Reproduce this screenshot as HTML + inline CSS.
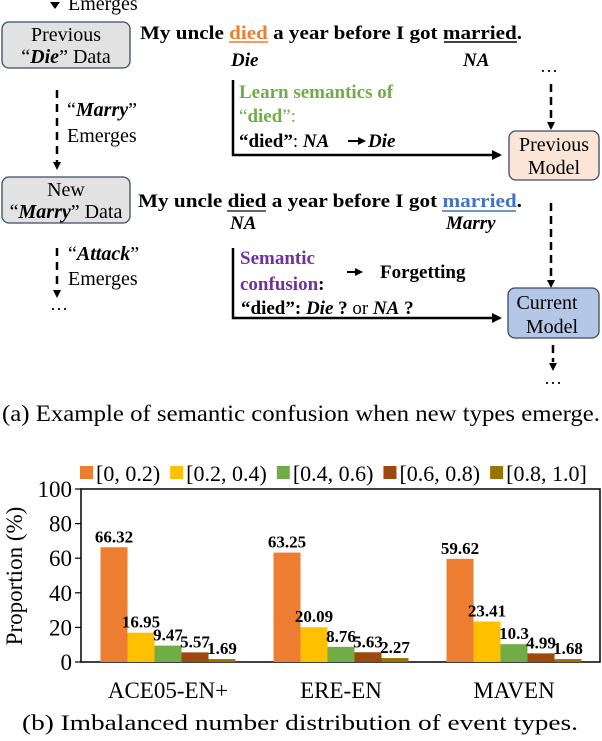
<!DOCTYPE html>
<html><head><meta charset="utf-8"><style>
html,body{margin:0;padding:0;background:#fff}
svg, svg text{font-family:"Liberation Serif","DejaVu Serif",serif}
</style></head><body>
<svg width="602" height="736" viewBox="0 0 602 736" font-family="Liberation Serif, serif">
<g>
<path d="M50,2 L60,2 L55,9 z" fill="#000"/>
<text x="68" y="10" font-size="20">Emerges</text>
<rect x="2" y="22" width="128" height="46" rx="7" fill="#e2e2e2" stroke="#3d4a63" stroke-width="1.3"/>
<text x="66" y="41" font-size="20" text-anchor="middle">Previous</text>
<text x="66" y="63" font-size="20" text-anchor="middle">“<tspan font-weight="bold" font-style="italic">Die</tspan>” Data</text>
<text x="140" y="39" font-size="19" font-weight="bold" textLength="382" lengthAdjust="spacingAndGlyphs">My uncle <tspan fill="#ed7d31">died</tspan> a year before I got married.</text>
<line x1="229" y1="42" x2="268" y2="42" stroke="#ed7d31" stroke-width="1.5"/>
<line x1="444" y1="42" x2="517" y2="42" stroke="#000" stroke-width="1.5"/>
<text x="231" y="66" font-size="19" font-weight="bold" font-style="italic">Die</text>
<text x="463" y="66" font-size="19" font-weight="bold" font-style="italic">NA</text>
<text x="540" y="72" font-size="18">…</text>
<line x1="551" y1="84" x2="551" y2="128" stroke="#000" stroke-width="2.5" stroke-dasharray="8,5"/>
<path d="M547,122 L555,122 L551,130 z" fill="#000"/>
<rect x="509" y="131" width="90" height="49" rx="7" fill="#fbe5d6" stroke="#3d4a63" stroke-width="1.3"/>
<text x="554" y="151" font-size="20" text-anchor="middle">Previous</text>
<text x="554" y="174" font-size="20" text-anchor="middle">Model</text>
<path d="M233,80 L233,155 L500,155" fill="none" stroke="#000" stroke-width="2.5"/>
<path d="M492,150 L502,155 L492,160 z" fill="#000"/>
<text x="239" y="98" font-size="19" font-weight="bold" fill="#70ad47">Learn semantics of</text>
<text x="239" y="122" font-size="19" fill="#70ad47">“<tspan font-weight="bold">died</tspan>”:</text>
<text x="239" y="147" font-size="19"><tspan font-weight="bold">“died”</tspan>: <tspan font-weight="bold" font-style="italic">NA</tspan></text>
<line x1="348" y1="141" x2="360" y2="141" stroke="#000" stroke-width="2"/><path d="M358,137 L366,141 L358,145 z" fill="#000"/>
<text x="368" y="147" font-size="19" font-weight="bold" font-style="italic">Die</text>
<line x1="57" y1="90" x2="57" y2="162" stroke="#000" stroke-width="2.5" stroke-dasharray="8,6"/>
<path d="M53,162 L61,162 L57,170 z" fill="#000"/>
<text x="67" y="116" font-size="20">“<tspan font-weight="bold" font-style="italic">Marry</tspan>”</text>
<text x="67" y="142" font-size="20">Emerges</text>
<rect x="2" y="177" width="128" height="46" rx="7" fill="#e2e2e2" stroke="#3d4a63" stroke-width="1.3"/>
<text x="66" y="196" font-size="20" text-anchor="middle">New</text>
<text x="66" y="218" font-size="20" text-anchor="middle">“<tspan font-weight="bold" font-style="italic">Marry</tspan>” Data</text>
<text x="138" y="207" font-size="19" font-weight="bold" textLength="384" lengthAdjust="spacingAndGlyphs">My uncle died a year before I got <tspan fill="#4472c4">married</tspan>.</text>
<line x1="227" y1="211" x2="266" y2="211" stroke="#333" stroke-width="1.5"/>
<line x1="442" y1="211" x2="516" y2="211" stroke="#4472c4" stroke-width="1.5"/>
<text x="230" y="229" font-size="19" font-weight="bold" font-style="italic">NA</text>
<text x="446" y="229" font-size="19" font-weight="bold" font-style="italic">Marry</text>
<line x1="551" y1="203" x2="551" y2="280" stroke="#000" stroke-width="2.5" stroke-dasharray="8,5"/>
<path d="M547,280 L555,280 L551,288 z" fill="#000"/>
<rect x="508" y="288" width="91" height="50" rx="7" fill="#b4c7e7" stroke="#3d4a63" stroke-width="1.3"/>
<text x="547" y="309" font-size="20" text-anchor="middle">Current</text>
<text x="552" y="333" font-size="20" text-anchor="middle">Model</text>
<path d="M233,248 L233,318 L500,318" fill="none" stroke="#000" stroke-width="2.5"/>
<path d="M492,313 L502,318 L492,323 z" fill="#000"/>
<text x="240" y="264" font-size="19" font-weight="bold" fill="#7030a0">Semantic</text>
<text x="240" y="290" font-size="19" font-weight="bold"><tspan fill="#7030a0">confusion</tspan>:</text>
<line x1="347" y1="272" x2="357" y2="272" stroke="#000" stroke-width="2"/><path d="M355,268 L363,272 L355,276 z" fill="#000"/>
<text x="380" y="278" font-size="19" font-weight="bold">Forgetting</text>
<text x="241" y="314" font-size="19"><tspan font-weight="bold">“died”: </tspan><tspan font-weight="bold" font-style="italic">Die</tspan><tspan font-weight="bold"> ?</tspan> or <tspan font-weight="bold" font-style="italic">NA</tspan><tspan font-weight="bold"> ?</tspan></text>
<line x1="553" y1="345" x2="553" y2="362" stroke="#000" stroke-width="2.5" stroke-dasharray="8,5"/>
<path d="M549,363 L557,363 L553,371 z" fill="#000"/>
<text x="544" y="384" font-size="18">…</text>
<line x1="57" y1="248" x2="57" y2="290" stroke="#000" stroke-width="2.5" stroke-dasharray="8,6"/>
<path d="M53,290 L61,290 L57,298 z" fill="#000"/>
<text x="68" y="260" font-size="20">“<tspan font-weight="bold" font-style="italic">Attack</tspan>”</text>
<text x="68" y="285" font-size="20">Emerges</text>
<text x="50" y="310" font-size="18">…</text>
<text x="2" y="421" font-size="23" textLength="598" lengthAdjust="spacingAndGlyphs">(a)  Example of semantic confusion when new types emerge.</text>
</g>
<g id="chart"></g>
<text x="300" y="730" font-size="22" text-anchor="middle" textLength="556" lengthAdjust="spacingAndGlyphs">(b)  Imbalanced number distribution of event types.</text>
</svg>
<script>
const categories = ["ACE05-EN+", "ERE-EN", "MAVEN"];
const seriesNames = ["[0, 0.2)", "[0.2, 0.4)", "[0.4, 0.6)", "[0.6, 0.8)", "[0.8, 1.0]"];
const s0 = [66.32, 63.25, 59.62];
const s1 = [16.95, 20.09, 23.41];
const s2 = [9.47, 8.76, 10.3];
const s3 = [5.57, 5.63, 4.99];
const s4 = [1.69, 2.27, 1.68];
const yTicks = [0, 20, 40, 60, 80, 100];
const series = [s0, s1, s2, s3, s4];
const colors = ["#ed7d31", "#ffc000", "#70ad47", "#9e480e", "#997300"];
const NS = "http://www.w3.org/2000/svg";
const g = document.getElementById("chart");
const L = 81, R = 600, T = 489, B = 662;
const y = v => B - (v / 100) * (B - T);
const groupCenter = i => 168 + i * 173;
const bw = 27;
function mk(tag, attrs, parent) { const e = document.createElementNS(NS, tag); for (const k in attrs) e.setAttribute(k, attrs[k]); (parent || g).appendChild(e); return e; }
const frame = mk("rect", { x: L, y: T, width: R - L, height: B - T, fill: "none", stroke: "#000", "stroke-width": 1.5 });


yTicks.forEach(t => {
  const tk = mk("line", { x1: L - 6, x2: L, y1: y(t), y2: y(t), stroke: "#000", "stroke-width": 1.2 });
  
  
  const lb = mk("text", { x: L - 9, y: y(t) + 8, "font-size": 23, "text-anchor": "end" });
  lb.textContent = t;
  
  
});
const yt = mk("text", { x: 0, y: 0, "font-size": 23, "text-anchor": "middle", transform: "translate(22,576) rotate(-90)" });
yt.textContent = "Proportion (%)";


categories.forEach((c, i) => {
  const cx = groupCenter(i);
  series.forEach((s, j) => {
    const x0 = cx - 2.5 * bw + j * bw;
    const r = mk("rect", { x: x0, y: y(s[i]), width: bw, height: B - y(s[i]), fill: colors[j] });
    
    
    const v = mk("text", { x: x0 + bw / 2, y: y(s[i]) - 5, "font-size": 17, "font-weight": "bold", "text-anchor": "middle" });
    v.textContent = s[i];
    
    
  });
  const xl = mk("text", { x: cx, y: 698, "font-size": 23, "text-anchor": "middle" });
  xl.textContent = c;
  
  
});
let lx = 80;
seriesNames.forEach((n, j) => {
  const sq = mk("rect", { x: lx, y: 466, width: 13, height: 13, fill: colors[j] });
  
  
  const t = mk("text", { x: lx + 16, y: 481, "font-size": 22 });
  t.textContent = n;
  
  
  let w = 70;
  try { w = t.getComputedTextLength(); } catch (e) {}
  lx += 16 + w + 10;
});
</script>
</body></html>
